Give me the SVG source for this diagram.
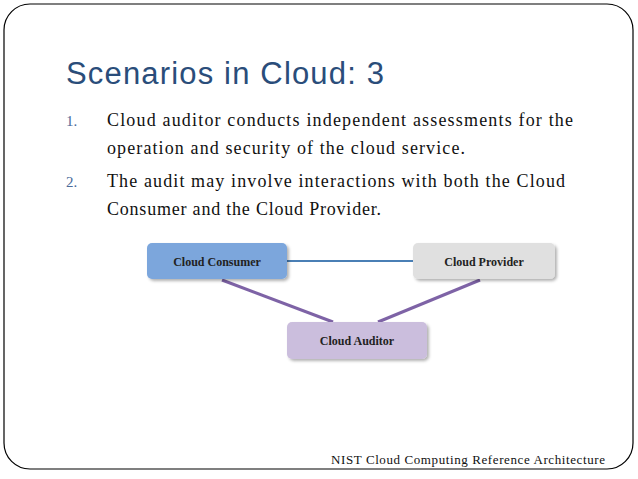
<svg xmlns="http://www.w3.org/2000/svg" width="638" height="479" viewBox="0 0 638 479">
<style>
.body{font-family:"Liberation Serif",serif;font-size:18px;fill:#111}
.num{font-family:"Liberation Serif",serif;font-size:15px;fill:#4a6a9a}
.lbl{font-family:"Liberation Serif",serif;font-size:12px;font-weight:bold;fill:#222;text-anchor:middle}
.box{stroke:none}
</style>
<defs>
<filter id="sh" x="-10%" y="-20%" width="130%" height="150%"><feDropShadow dx="2" dy="2" stdDeviation="1.5" flood-color="#000" flood-opacity="0.3"/></filter>
</defs>
<rect x="0" y="0" width="638" height="479" fill="#fff"/>
<rect x="4" y="4" width="629" height="465" rx="26" fill="none" stroke="#000" stroke-width="1.2"/>
<text x="66" y="84" font-family="Liberation Sans Narrow, Liberation Sans, sans-serif" font-size="31" fill="#2a4d7a" textLength="318">Scenarios in Cloud: 3</text>
<text class="num" x="66" y="126">1.</text>
<text class="body" x="107" y="126" textLength="466">Cloud auditor conducts independent assessments for the</text>
<text class="body" x="107" y="154" textLength="358">operation and security of the cloud service.</text>
<text class="num" x="66" y="187">2.</text>
<text class="body" x="107" y="187" textLength="458">The audit may involve interactions with both the Cloud</text>
<text class="body" x="107" y="215" textLength="274">Consumer and the Cloud Provider.</text>
<g id="connectors">
<line x1="287" y1="261" x2="413" y2="261" stroke="#4a7fb5" stroke-width="2"/>
<line x1="222" y1="280" x2="333" y2="322" stroke="#7e63a6" stroke-width="3"/>
<line x1="480" y1="280" x2="378" y2="322" stroke="#7e63a6" stroke-width="3"/>
</g>
<g id="consumer"><rect class="box" x="147" y="243" width="140" height="36" rx="5" fill="#7ba6dc" filter="url(#sh)"/><text class="lbl" x="217" y="266">Cloud Consumer</text></g>
<g id="provider"><rect class="box" x="413" y="243" width="142" height="36" rx="5" fill="#e0e0e0" filter="url(#sh)"/><text class="lbl" x="484" y="266">Cloud Provider</text></g>
<g id="auditor"><rect class="box" x="287" y="322" width="140" height="37" rx="5" fill="#cbbedd" filter="url(#sh)"/><text class="lbl" x="357" y="345">Cloud Auditor</text></g>
<text x="331" y="464" font-family="Liberation Serif, serif" font-size="13" fill="#111" textLength="274">NIST Cloud Computing Reference Architecture</text>
</svg>
